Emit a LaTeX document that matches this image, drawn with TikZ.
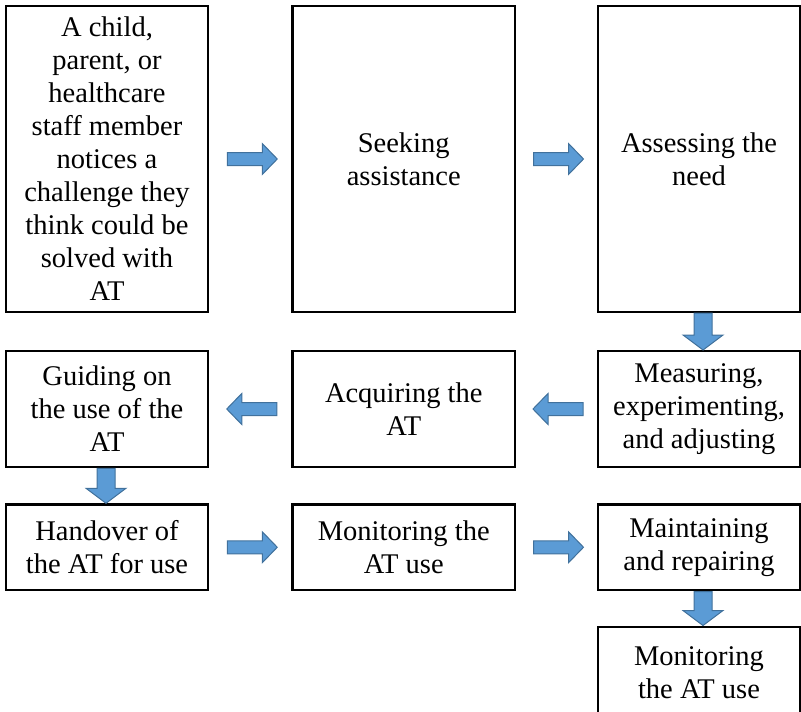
\documentclass[tikz,border=0pt]{standalone}
\usepackage{fontspec}
\setmainfont{Liberation Serif}
\usetikzlibrary{calc}
\definecolor{arrowfill}{HTML}{5B9BD5}
\definecolor{arrowline}{HTML}{41719C}

% Block arrow: #1 centre, #2 direction (deg), #3 length, #4 shaft half width, #5 head half width
\newcommand\blockarrow[5]{%
  \filldraw[flowarrow, shift={(#1)}, rotate=#2]
    (-#3/2,-#4) -- (#3/2-15,-#4) -- (#3/2-15,-#5) -- (#3/2,0)
    -- (#3/2-15,#5) -- (#3/2-15,#4) -- (-#3/2,#4) -- cycle;}

\begin{document}
\begin{tikzpicture}[x=1pt,y=-1pt,
  box/.style={draw, line width=2.5pt, align=center, inner sep=0pt,
    font=\fontsize{28.5}{33}\selectfont},
  flowarrow/.style={fill=arrowfill, draw=arrowline, line width=1pt, line join=miter}]
\useasboundingbox (0,0) rectangle (801,712);
\clip (0,0) rectangle (801,712);

% row 1
\node[box, minimum width=202pt, minimum height=306pt] (n1) at (107,159)
  {A child,\\parent, or\\healthcare\\staff member\\notices a\\challenge they\\think could be\\solved with\\AT};
\node[box, minimum width=222.5pt, minimum height=306pt] (n2) at (403.75,159)
  {Seeking\\assistance};
\node[box, minimum width=202pt, minimum height=306pt] (n3) at (699,159)
  {Assessing the\\need};

% row 2
\node[box, minimum width=202pt, minimum height=116pt] (n4) at (107,409)
  {Guiding on\\the use of the\\AT};
\node[box, minimum width=222.5pt, minimum height=116pt] (n5) at (403.75,409)
  {Acquiring the\\AT};
\node[box, minimum width=202pt, minimum height=116pt] (n6) at (699,409)
  {Measuring,\\experimenting,\\and adjusting};

% row 3
\node[box, minimum width=202pt, minimum height=85.5pt] (n7) at (107,547.25)
  {Handover of\\the AT for use};
\node[box, minimum width=222.5pt, minimum height=85.5pt] (n8) at (403.75,547.25)
  {Monitoring the\\AT use};
\node[box, minimum width=202pt, minimum height=85.5pt] (n9) at (699,547.25)
  {Maintaining\\and repairing};

% row 4
\node[box, minimum width=202pt, minimum height=92pt] (n10) at (699,673)
  {Monitoring\\the AT use};

% arrow positions between the boxes
\coordinate (a12) at ($(n1.east)!0.5!(n2.west)+(2,0)$);
\coordinate (a23) at ($(n2.east)!0.5!(n3.west)+(2,0)$);
\coordinate (a36) at ($(n3.south)!0.5!(n6.north)+(4,0)$);
\coordinate (a65) at ($(n6.west)!0.5!(n5.east)+(1.5,0)$);
\coordinate (a54) at ($(n5.west)!0.5!(n4.east)+(1.5,0)$);
\coordinate (a47) at ($(n4.south)!0.5!(n7.north)+(-1,0)$);
\coordinate (a78) at ($(n7.east)!0.5!(n8.west)+(2,0)$);
\coordinate (a89) at ($(n8.east)!0.5!(n9.west)+(2,0)$);
\coordinate (a910) at ($(n9.south)!0.5!(n10.north)+(4,0)$);

\blockarrow{a12}{0}{50}{6.5}{15.5}
\blockarrow{a23}{0}{50}{6.5}{15.5}
\blockarrow{a36}{-90}{37}{9}{20}
\blockarrow{a65}{180}{50}{6.5}{15.5}
\blockarrow{a54}{180}{50}{6.5}{15.5}
\blockarrow{a47}{-90}{35}{9}{20}
\blockarrow{a78}{0}{50}{6.5}{15.5}
\blockarrow{a89}{0}{50}{6.5}{15.5}
\blockarrow{a910}{-90}{34}{9}{20}
\end{tikzpicture}
\end{document}
